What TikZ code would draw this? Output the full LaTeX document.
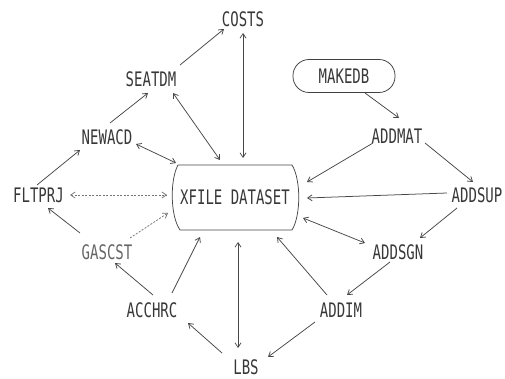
\documentclass[tikz,border=0pt]{standalone}
\usepackage{fontspec}
\newfontfamily\plotfont{DejaVu Sans Mono}[FakeStretch=0.7]
\usetikzlibrary{arrows.meta}
\begin{document}
\begin{tikzpicture}[x=1pt,y=-1pt,
  lbl/.style={font=\plotfont\fontsize{20}{20}\selectfont, inner sep=0pt, text=black!78},
  conn/.style={draw=black!72, line width=0.75pt},
  tip/.style={-{Straight Barb[length=4.5pt,width=6pt]}},
  tips/.style={{Straight Barb[length=4.5pt,width=6pt]}-{Straight Barb[length=4.5pt,width=6pt]}},
  faint/.style={dash pattern=on 2pt off 1.5pt, draw=black!55}
]
\fill[white] (0,0) rectangle (505,379);
\useasboundingbox (0,0) rectangle (505,379);

% nodes
\node[lbl] (costs)  at (243,19)  {COSTS};
\node[lbl] (seatdm) at (151,79)  {SEATDM};
\node[lbl] (newacd) at (107,137) {NEWACD};
\node[lbl] (fltprj) at (38.5,195) {FLTPRJ};
\node[lbl] (xfile)  at (235,197.5) {XFILE DATASET};
\node[lbl, draw=black!75, line width=0.75pt, rounded corners=16pt,
      minimum width=102pt, minimum height=33pt] (makedb) at (344,76) {MAKEDB};
\node[lbl] (addmat) at (397,136) {ADDMAT};
\node[lbl] (addsup) at (477,195) {ADDSUP};
\node[lbl] (addsgn) at (398,252) {ADDSGN};
\node[lbl] (addim)  at (341,310) {ADDIM};
\node[lbl] (lbs)    at (246,367) {LBS};
\node[lbl] (acchrc) at (152,310) {ACCHRC};
\node[lbl, text=black!60] (gascst) at (107,252) {GASCST};

% dataset outline
\begin{scope}[shift={(xfile.center)}]
  \draw[conn] (-57,-32.5) -- (57,-32.5)
    .. controls (66,-18) and (66,18) .. (57,32.5)
    -- (-55,32.5)
    .. controls (-65,18) and (-65,-18) .. (-57,-32.5);
\end{scope}

% connectors
\draw[conn,tip]  ([shift={(29,-14)}]seatdm.center) -- ([shift={(-19,10)}]costs.center);
\draw[conn,tips] ([shift={(0,14)}]costs.center) -- ([shift={(8,-39.5)}]xfile.center);
\draw[conn,tip]  ([shift={(3,-14)}]newacd.center) -- ([shift={(-3,14)}]seatdm.center);
\draw[conn,tips] ([shift={(22,14)}]seatdm.center) -- ([shift={(-15,-37.5)}]xfile.center);
\draw[conn,tips] ([shift={(29,7)}]newacd.center) -- ([shift={(-59,-34.5)}]xfile.center);
\draw[conn,tip]  ([shift={(-1.5,-10)}]fltprj.center) -- ([shift={(-27,13)}]newacd.center);
\draw[conn,tips,faint] ([shift={(31.5,0)}]fltprj.center) -- ([shift={(-68,-2.5)}]xfile.center);
\draw[conn,tip]  ([shift={(-27,-19)}]gascst.center) -- ([shift={(9.5,13)}]fltprj.center);
\draw[conn,tip,faint] ([shift={(23,-14)}]gascst.center) -- ([shift={(-67,15.5)}]xfile.center);
\draw[conn,tip]  ([shift={(1,-15)}]acchrc.center) -- ([shift={(8,11)}]gascst.center);
\draw[conn,tip]  ([shift={(20,-17)}]acchrc.center) -- ([shift={(-35,39.5)}]xfile.center);
\draw[conn,tip]  ([shift={(-24,-14)}]lbs.center) -- ([shift={(36,13)}]acchrc.center);
\draw[conn,tips] ([shift={(-8,-19)}]lbs.center) -- ([shift={(3,44.5)}]xfile.center);
\draw[conn,tip]  ([shift={(-26,12)}]addim.center) -- ([shift={(22,-10)}]lbs.center);
\draw[conn,tip]  ([shift={(-14,-15)}]addim.center) -- ([shift={(42,39.5)}]xfile.center);
\draw[conn,tip]  ([shift={(-8,10)}]addsgn.center) -- ([shift={(6,-15)}]addim.center);
\draw[conn,tips] ([shift={(-33,-9)}]addsgn.center) -- ([shift={(68,20.5)}]xfile.center);
\draw[conn,tip]  ([shift={(-20,13)}]addsup.center) -- ([shift={(22,-14)}]addsgn.center);
\draw[conn,tip]  ([shift={(-30,-2)}]addsup.center) -- ([shift={(72,0.5)}]xfile.center);
\draw[conn,tip]  ([shift={(28,7)}]addmat.center) -- ([shift={(-4,-13)}]addsup.center);
\draw[conn,tip]  ([shift={(-24,7)}]addmat.center) -- ([shift={(72,-15.5)}]xfile.center);
\draw[conn,tip]  ([shift={(21,17)}]makedb.center) -- ([shift={(2,-18)}]addmat.center);
\end{tikzpicture}
\end{document}
